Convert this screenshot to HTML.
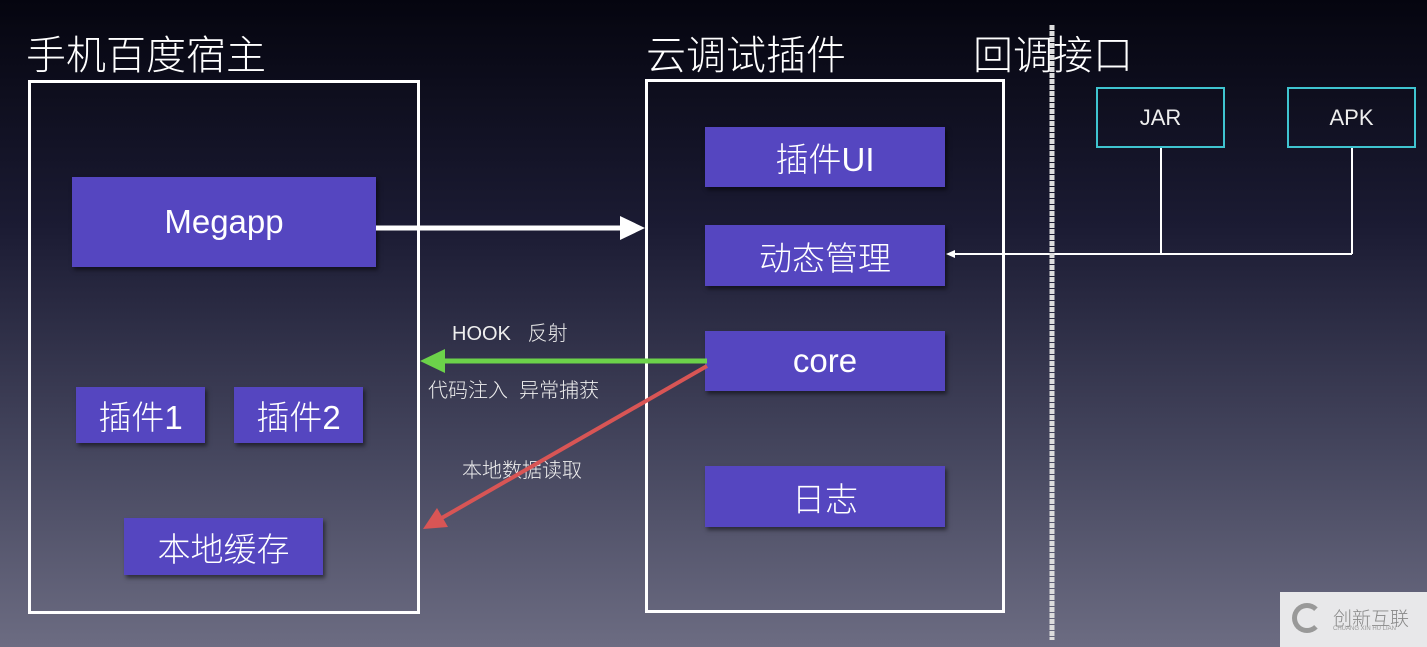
<!DOCTYPE html>
<html><head><meta charset="utf-8"><style>
html,body{margin:0;padding:0}
body{width:1427px;height:647px;position:relative;overflow:hidden;
background:linear-gradient(to bottom,#05050f 0%,#1b1b33 35%,#45465e 70%,#6c6c82 100%);
font-family:"Liberation Sans","Noto Sans CJK SC",sans-serif;color:#fff;font-weight:300}
.t{position:absolute;font-size:40px;line-height:1;white-space:nowrap}
.frame{position:absolute;border:3px solid #fff;box-sizing:border-box}
.b{position:absolute;background:#5546c0;color:#fff;display:flex;align-items:center;justify-content:center;font-size:33px;box-shadow:2px 3px 4px rgba(0,0,0,.5)}
.c{position:absolute;border:2px solid #3fc4d0;box-sizing:border-box;display:flex;align-items:center;justify-content:center;font-size:22px;color:#eee}
.l{position:absolute;font-size:20px;color:#eee;white-space:nowrap}
</style></head><body>
<div class="t" style="left:26px;top:36px">手机百度宿主</div>
<div class="t" style="left:646px;top:36px">云调试插件</div>
<div class="t" style="left:973px;top:36px">回调接口</div>

<div class="frame" style="left:28px;top:80px;width:392px;height:534px"></div>
<div class="frame" style="left:645px;top:79px;width:360px;height:534px"></div>

<div class="b" style="left:72px;top:177px;width:304px;height:90px">Megapp</div>
<div class="b" style="left:76px;top:387px;width:129px;height:56px">插件1</div>
<div class="b" style="left:234px;top:387px;width:129px;height:56px">插件2</div>
<div class="b" style="left:124px;top:518px;width:199px;height:57px">本地缓存</div>

<div class="b" style="left:705px;top:127px;width:240px;height:60px">插件UI</div>
<div class="b" style="left:705px;top:225px;width:240px;height:61px">动态管理</div>
<div class="b" style="left:705px;top:331px;width:240px;height:60px">core</div>
<div class="b" style="left:705px;top:466px;width:240px;height:61px">日志</div>

<div class="c" style="left:1096px;top:87px;width:129px;height:61px">JAR</div>
<div class="c" style="left:1287px;top:87px;width:129px;height:61px">APK</div>

<div class="l" style="left:452px;top:317px">HOOK&nbsp;&nbsp;&nbsp;反射</div>
<div class="l" style="left:428px;top:374px">代码注入&nbsp;&nbsp;异常捕获</div>
<div class="l" style="left:462px;top:454px">本地数据读取</div>

<svg width="1427" height="647" style="position:absolute;left:0;top:0">
<line x1="376" y1="228" x2="625" y2="228" stroke="#fff" stroke-width="5"/>
<polygon points="645,228 620,216 620,240" fill="#fff"/>
<line x1="707" y1="361" x2="440" y2="361" stroke="#6cd24a" stroke-width="5"/>
<polygon points="420,361 445,349 445,373" fill="#6cd24a"/>
<line x1="707" y1="366" x2="440" y2="519" stroke="#d85555" stroke-width="4"/>
<polygon points="423,529 437,508 448,527" fill="#d85555"/>
<line x1="1161" y1="148" x2="1161" y2="254" stroke="#fff" stroke-width="2"/>
<line x1="1352" y1="148" x2="1352" y2="254" stroke="#fff" stroke-width="2"/>
<line x1="1352" y1="254" x2="952" y2="254" stroke="#fff" stroke-width="2"/>
<polygon points="946,254 955,250 955,258" fill="#fff"/>
<line x1="1052" y1="25" x2="1052" y2="640" stroke="#ddd" stroke-width="5" stroke-dasharray="5 1"/>
</svg>

<div style="position:absolute;left:1280px;top:592px;width:147px;height:55px;background:#e8e8ea"></div>
<div style="position:absolute;left:1292px;top:603px;width:30px;height:30px;border-radius:50%;border:5px solid #999;box-sizing:border-box;border-right-color:transparent"></div>
<div style="position:absolute;left:1333px;top:604px;font-size:19px;color:#888">创新互联</div>
<div style="position:absolute;left:1333px;top:626px;font-size:6px;color:#999">CHUANG XIN HU LIAN</div>
</body></html>
